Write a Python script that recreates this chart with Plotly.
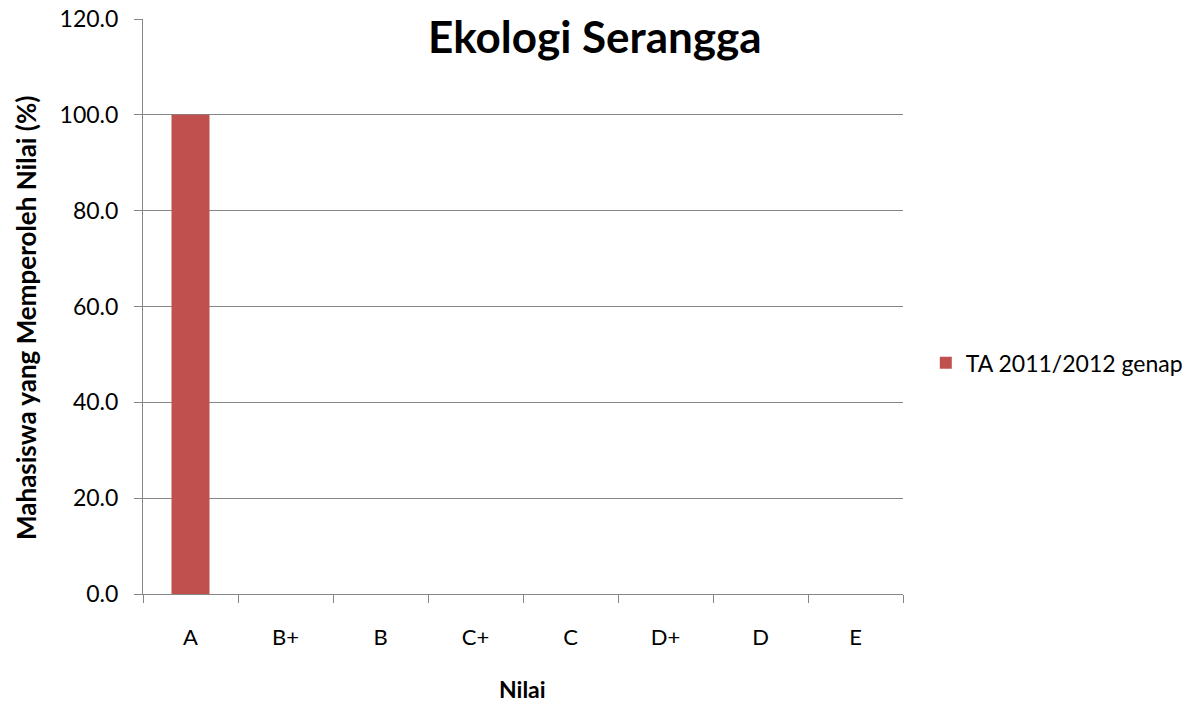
import plotly.graph_objects as go

categories = ["A", "B+", "B", "C+", "C", "D+", "D", "E"]
values = [100.0, 0, 0, 0, 0, 0, 0, 0]
series_name = "TA 2011/2012 genap"
y_ticks = [0, 20, 40, 60, 80, 100, 120]

FONT = "Lato"
GRAY = "#868686"

fig = go.Figure()
fig.add_trace(go.Bar(x=categories, y=values, name=series_name,
                     marker=dict(color="#C0504D", line=dict(width=0)),
                     showlegend=True))

fig.update_layout(
    width=1193, height=696,
    margin=dict(l=135, r=298, t=11, b=110, autoexpand=False),
    paper_bgcolor="white", plot_bgcolor="white",
    bargap=0.6,
    font=dict(family=FONT, size=23, color="black"),
    legend=dict(x=1.030, y=0.402, xanchor="left", yanchor="middle",
                font=dict(family=FONT, size=23), itemwidth=30,
                bgcolor="rgba(0,0,0,0)"),
    xaxis=dict(type="category", showline=True, linecolor=GRAY, linewidth=1,
               ticks="outside", ticklen=8, tickcolor=GRAY, tickson="boundaries",
               showgrid=False, ticklabelstandoff=24, tickfont=dict(size=22),
               automargin=False),
    yaxis=dict(range=[0, 120], tickvals=y_ticks,
               ticktext=[f"{v:.1f}" for v in y_ticks],
               showline=True, linecolor=GRAY, linewidth=1,
               ticks="outside", ticklen=8, tickcolor=GRAY,
               showgrid=True, gridcolor=GRAY, gridwidth=1,
               zeroline=False, ticklabelstandoff=11, tickfont=dict(size=23),
               ticklabeloverflow="allow", automargin=False),
    annotations=[
        dict(text="<b>Ekologi Serangga</b>", x=0.595, y=0.97, xref="paper", yref="paper",
             xanchor="center", yanchor="middle", showarrow=False,
             font=dict(family=FONT, size=44)),
        dict(text="<b>Mahasiswa yang Memperoleh Nilai (%)</b>", x=-0.154, y=0.48,
             xref="paper", yref="paper", textangle=-90, xanchor="center", yanchor="middle",
             showarrow=False, font=dict(family=FONT, size=26)),
        dict(text="<b>Nilai</b>", x=0.4987, y=-0.165, xref="paper", yref="paper",
             xanchor="center", yanchor="middle", showarrow=False,
             font=dict(family=FONT, size=23)),
    ],
)

fig.write_html("out.html")
